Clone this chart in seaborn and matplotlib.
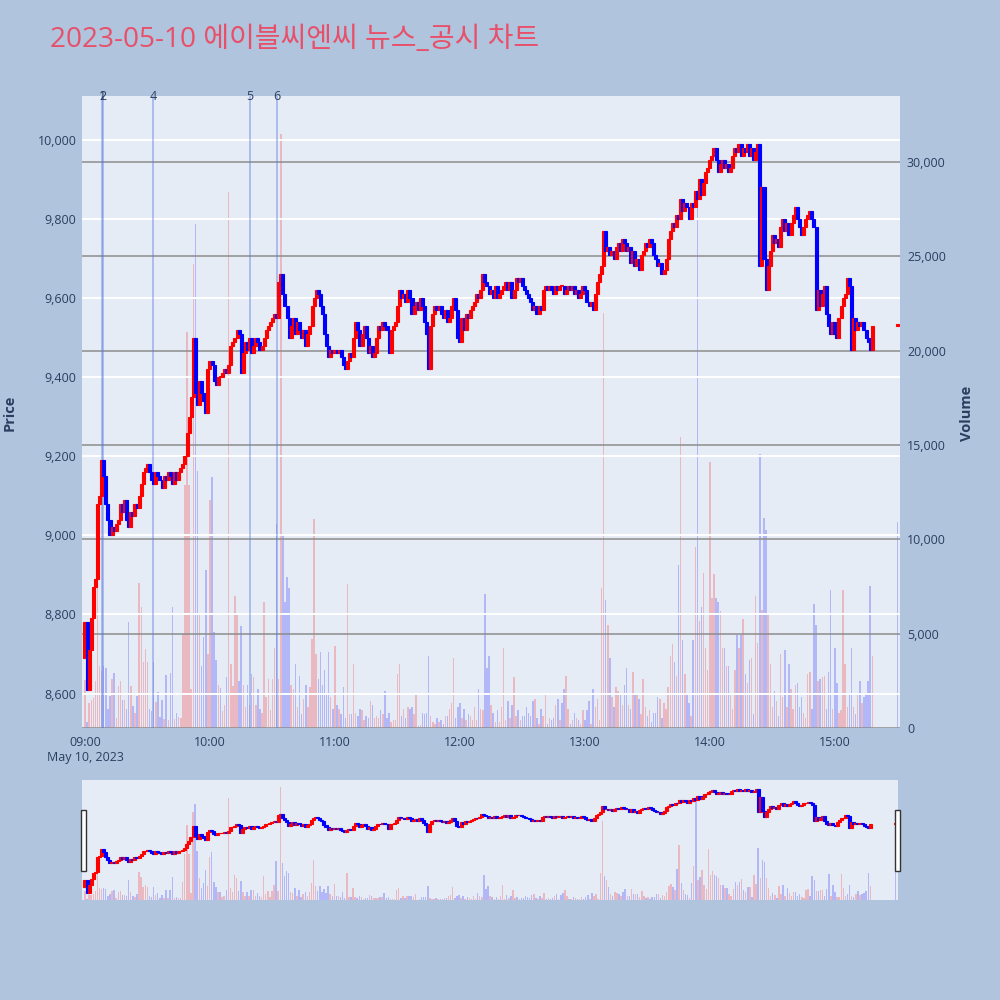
# -*- coding: utf-8 -*-

import numpy as np
import pandas as pd
import matplotlib
matplotlib.use("Agg")
import matplotlib.pyplot as plt
import matplotlib.dates as mdates
import matplotlib.transforms as mtransforms
from matplotlib.patches import Rectangle
from matplotlib.ticker import FuncFormatter
import seaborn as sns

TITLE = "2023-05-10 에이블씨엔씨 뉴스_공시 차트"
SESSION_DAY = "2023-05-10"
SESSION_START = "2023-05-10 09:00"

# 1-minute closes in units of 10 won, 09:00 .. 15:18
first_open = 8690
close_10 = [
    878, 861, 871, 879, 887, 889, 908, 910, 919, 915,
    908, 904, 900, 902, 901, 903, 904, 908, 906, 909,
    904, 902, 906, 905, 908, 907, 910, 913, 916, 917,
    918, 916, 914, 913, 916, 915, 914, 912, 915, 914,
    916, 915, 913, 916, 914,
    916, 917, 918, 920, 926, 930, 935, 950, 936, 933,
    939, 936, 934, 931, 942, 944, 943, 939, 938, 940,
    940, 941, 942, 941, 943, 948, 949, 950, 952, 951,
    941, 946, 949, 947,
    950, 946, 948, 950, 949, 947, 948, 950, 952, 953,
    954, 955, 956, 955, 964, 966, 961, 958, 955, 950,
    953, 955, 951, 954, 952, 950, 952, 948, 951, 953,
    958, 960, 962, 961, 958, 956, 951, 948, 945, 947,
    946, 947, 946, 947, 945, 943, 942, 944, 946, 945,
    950, 954, 952, 948, 951, 953, 950, 946, 948, 945,
    946, 950, 953, 952, 954, 953, 952, 946, 952, 953,
    954, 958, 962, 960, 961, 959, 962, 960, 956, 958,
    959, 957, 960, 958, 954, 951, 942, 953, 956, 958,
    957, 958, 956, 955, 957, 954, 955, 958, 960, 957,
    950, 949, 955, 952, 956, 955, 957, 958, 959, 961,
    960, 962, 966, 964, 963, 961, 962, 960, 963, 960,
    961, 962, 963, 964, 962, 964, 960, 962, 965, 964,
    965, 963, 962, 961, 960, 959, 957, 958, 956, 958,
    957, 962, 963, 962, 963, 962, 961, 963, 962, 963,
    963, 961, 962, 963, 962, 963, 961, 962, 960, 961,
    963, 962, 959, 958, 959, 957, 961, 964, 966, 968,
    977, 972, 973, 971, 972, 970, 973, 974, 972, 975,
    974, 972, 973, 969, 972, 968, 970, 967, 971, 972,
    974, 973, 975, 974, 971, 970, 968, 969, 966, 967,
    970, 975, 977, 979, 978, 981, 980, 985, 982, 984,
    983, 980, 984, 983, 987, 985, 990, 986, 989, 992,
    993, 995, 996, 998, 995, 992, 994, 995, 993, 994,
    992, 993, 996, 998, 997, 999, 996, 998, 997, 999,
    996, 998, 995, 997, 999, 968, 988, 970, 962, 968,
    972, 976, 974, 975, 973, 978, 980, 977, 979, 976,
    979, 981, 983, 980, 978, 976, 978, 980, 981, 982,
    980, 978, 957, 962, 958, 961, 963, 956, 953, 951,
    954, 951, 950, 955, 958, 960, 961, 965, 963, 947,
    955, 952, 954, 953, 954, 952, 950, 949, 947, 953,
]

volumes = [
    2560, 300, 1300, 1500, 1600, 2500, 7700, 3300, 3000, 3300,
    3200, 1000, 1700, 2600, 2900, 530, 2200, 2500, 1500, 1500,
    1000, 5600, 2200, 1150, 800, 1700, 7700, 6400, 3500, 4200,
    3500, 1000, 900, 3500, 1400, 1900, 600, 1500, 500, 2800,
    450, 2900, 6400, 500, 800,
    600, 530, 5000, 12900, 21000, 12900, 2050, 24600, 26700, 13600,
    6100, 3300, 4800, 8400, 3900, 12100, 13300, 5100, 3600, 2300,
    2100, 900, 1200, 2700, 28400, 3400, 2200, 7000, 6100, 2500,
    5400, 2300, 1100, 2270,
    1200, 2880, 2680, 1240, 2060, 1030, 820, 6700, 1650, 2580,
    930, 2580, 4220, 10800, 2580, 31500, 10300, 6700, 8030, 7420,
    2270, 2060, 3400, 1130, 2780, 720, 1550, 2270, 1130, 2160,
    4740, 11100, 3910, 2580, 4020, 2270, 3090, 1850, 4020, 1650,
    1030, 4330, 1240, 1030, 720, 2160, 520, 7620, 720, 720,
    3400, 820, 620, 1030, 930, 410, 620, 520, 1440, 1240,
    520, 620, 520, 930, 720, 1960, 520, 820, 310, 410,
    410, 2880, 3400, 620, 1030, 520, 1130, 1030, 1130, 720,
    1750, 100, 150, 820, 720, 820, 3810, 620, 310, 200,
    520, 310, 410, 200, 620, 620, 1030, 1340, 3710, 520,
    1130, 1340, 520, 1030, 410, 720, 620, 410, 1130, 410,
    2060, 1030, 930, 7100, 3190, 3810, 1240, 820, 310, 930,
    310, 1130, 4220, 410, 1440, 520, 1240, 2680, 620, 930,
    410, 620, 620, 1130, 820, 620, 1440, 1550, 520, 200,
    1030, 620, 1850, 200, 520, 410, 520, 1240, 1550, 410,
    1340, 2060, 2780, 1030, 200, 410, 820, 520, 410, 200,
    930, 410, 930, 1440, 200, 2060, 1130, 1550, 410, 7420,
    22000, 6800, 5460, 3710, 1650, 1130, 2160, 1960, 1750, 1240,
    2270, 3190, 1240, 1030, 2990, 1750, 1750, 1550, 720, 2580,
    1130, 620, 930, 310, 820, 820, 1650, 1550, 520, 1340,
    1030, 2160, 3810, 4430, 3500, 2780, 8650, 15450, 4640, 2880,
    1750, 1340, 620, 4640, 9580, 28000, 5670, 6390, 8240, 4220,
    3090, 14110, 6900, 8140, 6900, 6700, 6180, 4220, 4220, 3300,
    3300, 1750, 1030, 3090, 4940, 4220, 4940, 5770, 2880, 2370,
    3600, 3710, 720, 7000, 4530, 14520, 6280, 11120, 10500, 6080,
    3400, 1130, 1960, 1440, 620, 3910, 1650, 4120, 1130, 3400,
    2060, 1030, 2270, 2370, 1130, 1650, 820, 520, 2880, 2990,
    1030, 6590, 5460, 2470, 2580, 2680, 2780, 1030, 2990, 7310,
    1030, 4220, 2370, 820, 930, 7310, 3400, 1130, 1750, 4220,
    1130, 720, 1750, 2470, 1340, 1650, 1850, 2470, 7520, 3810,
]

# closing auction print
auction_time = "2023-05-10 15:30"
auction_price = 9530
auction_volume = 10900

# news / disclosure markers
event_labels = ["1", "2", "4", "5", "6"]
event_times = ["09:08:20", "09:08:50", "09:32:40", "10:19:10", "10:32:10"]

price_ticks = [8600, 8800, 9000, 9200, 9400, 9600, 9800, 10000]
volume_ticks = [0, 5000, 10000, 15000, 20000, 25000, 30000]
hour_ticks = ["09:00", "10:00", "11:00", "12:00", "13:00", "14:00", "15:00"]

UP = "#ff0000"
DOWN = "#0000ff"
PLOT_BG = "#e5ecf6"
PAPER_BG = "#b0c4de"
TEXT = "#2a3f5f"
MINUTE = 1 / 1440


def build_frame() -> pd.DataFrame:
    assert len(close_10) == len(volumes), (len(close_10), len(volumes))
    close = np.array(close_10) * 10
    times = pd.date_range(SESSION_START, periods=len(close), freq="min")
    df = pd.DataFrame({
        "time": times,
        "open": np.r_[first_open, close[:-1]],
        "close": close,
        "volume": volumes,
    })
    auction = pd.DataFrame({
        "time": [pd.Timestamp(auction_time)],
        "open": [auction_price],
        "close": [auction_price],
        "volume": [auction_volume],
    })
    df = pd.concat([df, auction], ignore_index=True)
    df["x"] = mdates.date2num(df["time"])
    df["up"] = df["close"] >= df["open"]
    prev = df["close"].shift(1).fillna(df["open"])
    df["vol_up"] = df["close"] > prev
    return df


def draw_candles(ax, df, body_w=1.45, lw=0.8):
    colors = np.where(df["up"], UP, DOWN)
    bottom = np.minimum(df["open"], df["close"])
    height = np.maximum((df["close"] - df["open"]).abs(), 4)
    ax.bar(df["x"], height, bottom=bottom, width=body_w * MINUTE,
           color=colors, edgecolor=colors, linewidth=lw, zorder=3)


def draw_volume(ax, df, w=0.7):
    colors = np.where(df["vol_up"], UP, DOWN)
    ax.bar(df["x"], df["volume"], width=w * MINUTE, color=colors,
           alpha=0.22, linewidth=0, zorder=2)


def strip(ax):
    for s in ax.spines.values():
        s.set_visible(False)
    ax.tick_params(length=0, colors=TEXT, labelsize=9)


sns.set_theme(style="white")
plt.rcParams["font.family"] = ["Open Sans", "Noto Sans CJK KR", "DejaVu Sans"]

df = build_frame()
t0 = mdates.date2num(pd.Timestamp(SESSION_START))
xlim = (t0 - 1.44 * MINUTE, t0 + 391.3 * MINUTE)
price_lim = (8513, 10111)
volume_lim = (0, 33500)

fig = plt.figure(figsize=(10, 10), dpi=100, facecolor=PAPER_BG)

# main chart: price on the left axis, volume on the right axis
ax = fig.add_axes([0.082, 0.272, 0.818, 0.632])
ax_vol = ax.twinx()
ax.set_zorder(ax_vol.get_zorder() + 1)
ax.patch.set_visible(False)
ax_vol.patch.set_visible(True)
ax_vol.set_facecolor(PLOT_BG)

draw_volume(ax_vol, df)
draw_candles(ax, df)

ax.set_xlim(*xlim)
ax.set_ylim(*price_lim)
ax_vol.set_ylim(*volume_lim)

ax.set_yticks(price_ticks)
ax.yaxis.set_major_formatter(FuncFormatter(lambda v, _: f"{v:,.0f}"))
ax_vol.set_yticks(volume_ticks)
ax_vol.yaxis.set_major_formatter(FuncFormatter(lambda v, _: f"{v:,.0f}"))
ax.set_xticks([mdates.date2num(pd.Timestamp(f"{SESSION_DAY} {h}")) for h in hour_ticks])
ax.set_xticklabels(hour_ticks)

ax.grid(False)
ax.yaxis.grid(True, color="white", linewidth=1.4)
ax_vol.grid(False)
ax_vol.yaxis.grid(True, color="#8c8c8c", linewidth=1.1)
ax_vol.set_axisbelow(False)
strip(ax)
strip(ax_vol)
ax.tick_params(axis="y", pad=4)
ax.tick_params(axis="x", pad=6)
ax_vol.tick_params(axis="y", pad=5)

trans = mtransforms.blended_transform_factory(ax.transData, ax.transAxes)
for lab, tm in zip(event_labels, event_times):
    xv = mdates.date2num(pd.Timestamp(f"{SESSION_DAY} {tm}"))
    ax.axvline(xv, color="#5a7be0", alpha=0.45, linewidth=1.3, zorder=2.5)
    ax.text(xv, 1.0, lab, transform=trans, ha="center", va="center",
            color=TEXT, fontsize=9, clip_on=False)

fig.text(0.085, 1 - 0.757, "May 10, 2023", ha="center", va="center",
         color=TEXT, fontsize=9)
fig.text(0.010, 0.587, "Price", rotation=90, ha="center", va="center",
         color=TEXT, fontsize=10.5, fontweight="bold")
fig.text(0.967, 0.587, "Volume", rotation=90, ha="center", va="center",
         color=TEXT, fontsize=10.5, fontweight="bold")
fig.text(0.05, 0.96, TITLE, ha="left", va="center", color="#e8506a",
         fontsize=20.2)

# range slider underneath
ax_s = fig.add_axes([0.082, 0.1, 0.816, 0.12])
ax_sv = ax_s.twinx()
ax_s.set_zorder(ax_sv.get_zorder() + 1)
ax_s.patch.set_visible(False)
ax_sv.patch.set_visible(True)
ax_sv.set_facecolor(PLOT_BG)
draw_volume(ax_sv, df)
draw_candles(ax_s, df)
ax_s.set_xlim(*xlim)
ax_s.set_ylim(*price_lim)
ax_sv.set_ylim(*volume_lim)
for a in (ax_s, ax_sv):
    a.grid(False)
    a.set_xticks([])
    a.set_yticks([])
    for s in a.spines.values():
        s.set_visible(False)

for left in (81, 895):
    fig.add_artist(Rectangle((left / 1000, 1 - 871 / 1000), 5 / 1000, 61 / 1000,
                             transform=fig.transFigure, facecolor="white",
                             edgecolor="#333333", linewidth=1, zorder=10))

fig.savefig("out.png", dpi=100, facecolor=PAPER_BG)
